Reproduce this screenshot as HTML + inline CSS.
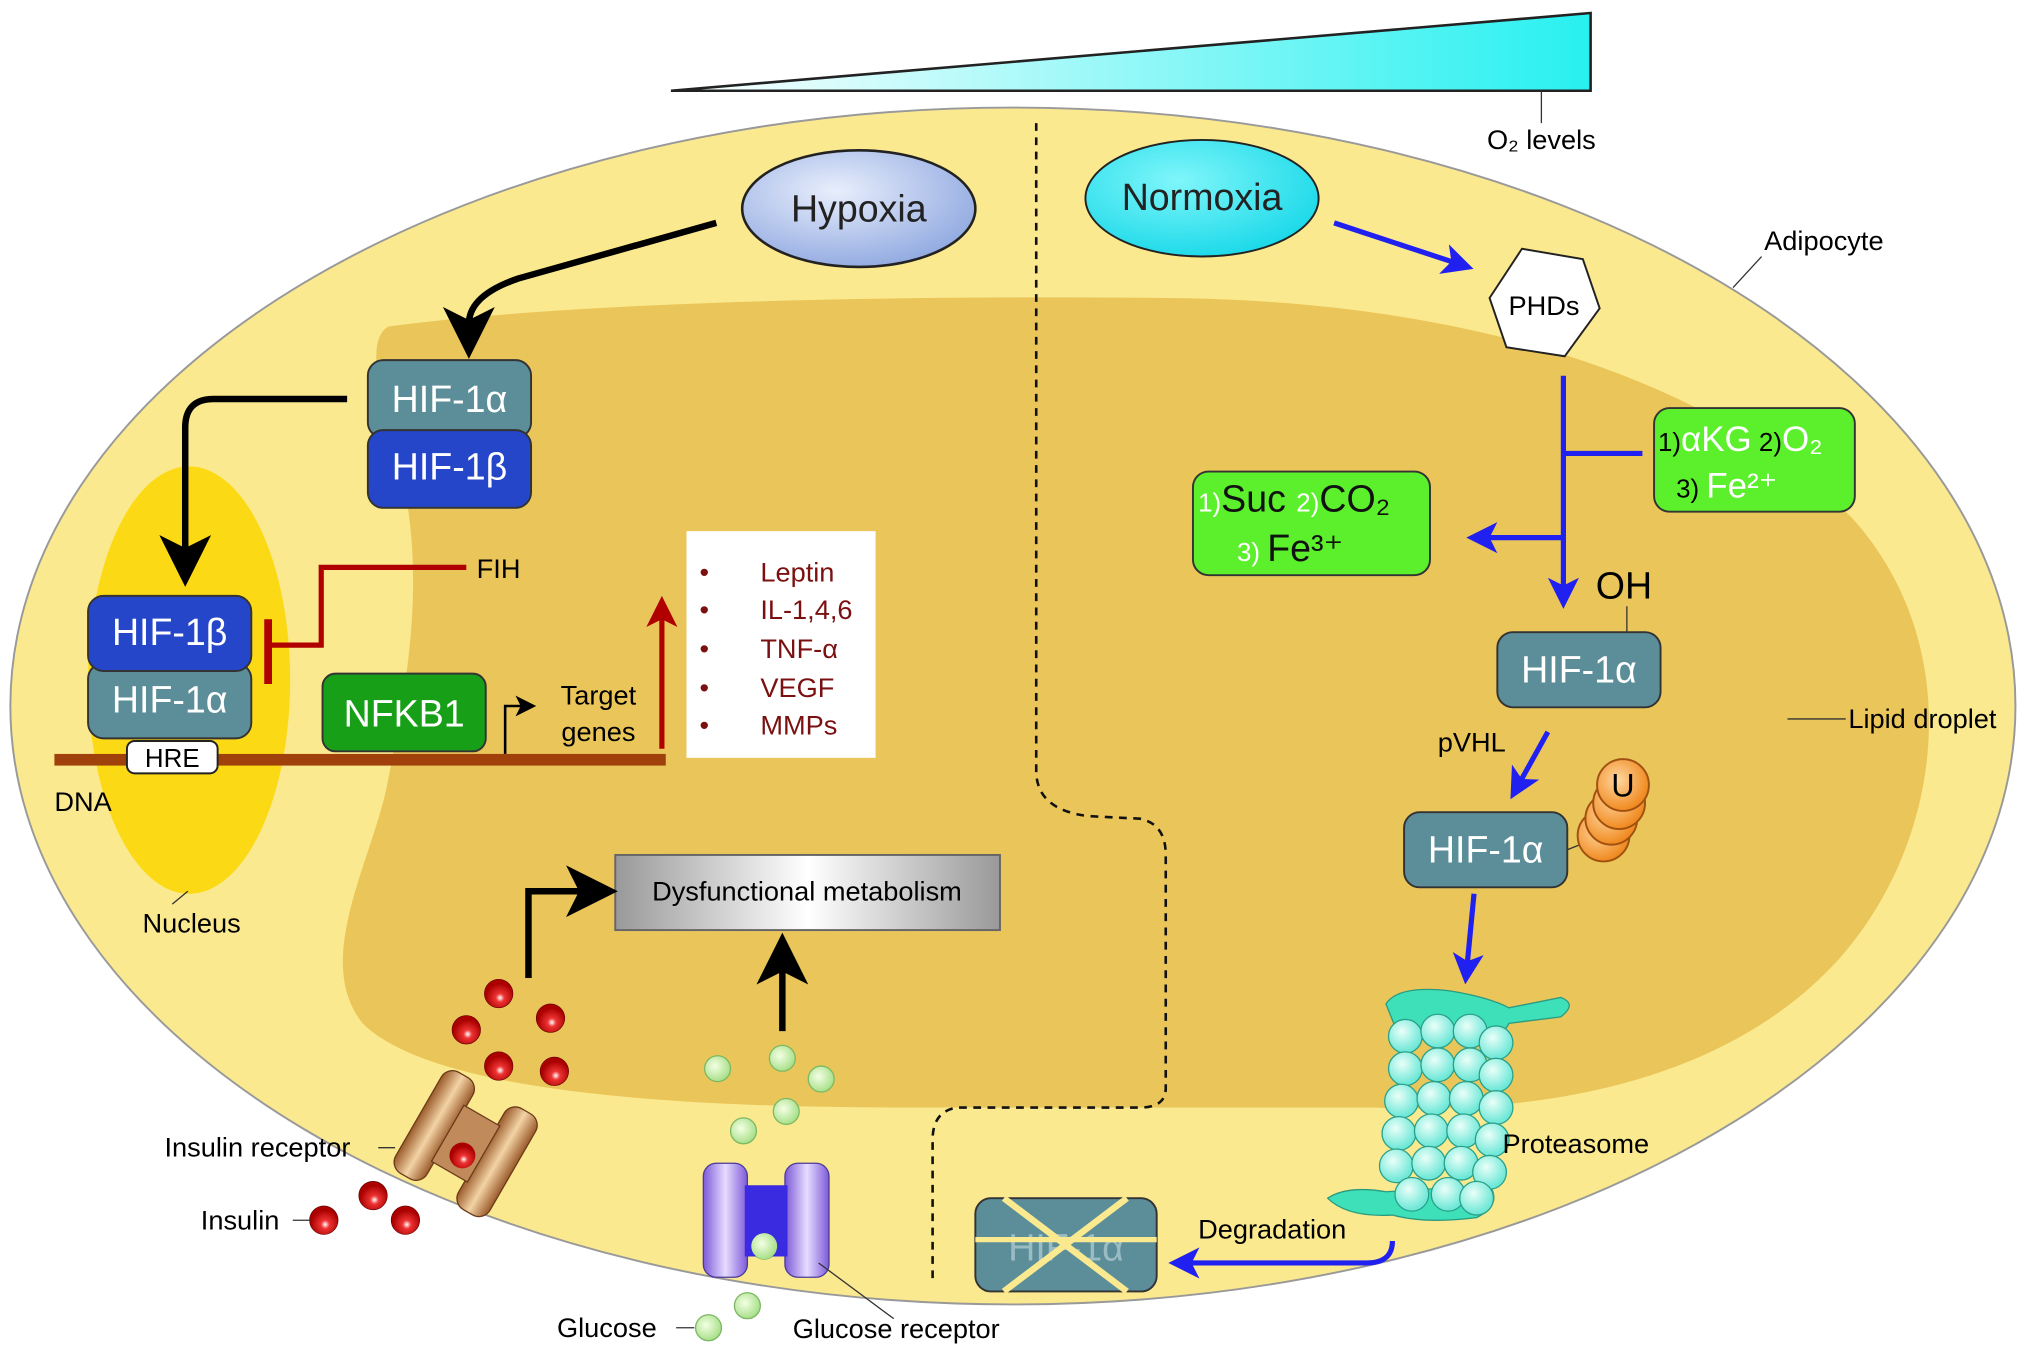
<!DOCTYPE html>
<html><head><meta charset="utf-8"><style>
html,body{margin:0;padding:0;background:#fff}
svg{display:block}
text{font-family:"Liberation Sans",Arial,sans-serif}
</style></head><body>
<svg width="2031" height="1355" viewBox="0 0 1568 1046" xmlns="http://www.w3.org/2000/svg">
<defs>
<linearGradient id="tri" x1="0" x2="1" y1="0" y2="0"><stop offset="0" stop-color="#fff"/><stop offset="1" stop-color="#28f0f0"/></linearGradient>
<radialGradient id="hyp" cx="0.4" cy="0.35" r="0.7"><stop offset="0" stop-color="#e8eefc"/><stop offset="1" stop-color="#8fa8e0"/></radialGradient>
<radialGradient id="nor" cx="0.4" cy="0.35" r="0.7"><stop offset="0" stop-color="#7ff6fa"/><stop offset="1" stop-color="#18d8e8"/></radialGradient>
<linearGradient id="dys" x1="0" x2="1"><stop offset="0" stop-color="#999"/><stop offset="0.5" stop-color="#fff"/><stop offset="1" stop-color="#999"/></linearGradient>
<radialGradient id="ball" cx="0.4" cy="0.35" r="0.6"><stop offset="0" stop-color="#eafff8"/><stop offset="1" stop-color="#6fe8d8"/></radialGradient>
<radialGradient id="red" cx="0.55" cy="0.65" r="0.5"><stop offset="0" stop-color="#fff"/><stop offset="0.3" stop-color="#e33"/><stop offset="1" stop-color="#a00"/></radialGradient>
<radialGradient id="grn" cx="0.4" cy="0.4" r="0.6"><stop offset="0" stop-color="#f4ffe4"/><stop offset="1" stop-color="#a8e08a"/></radialGradient>
<radialGradient id="org" cx="0.4" cy="0.4" r="0.6"><stop offset="0" stop-color="#ffd7a0"/><stop offset="1" stop-color="#f08a20"/></radialGradient>
<linearGradient id="ins" x1="0" x2="1"><stop offset="0" stop-color="#9a5a2a"/><stop offset="0.5" stop-color="#f3d3a5"/><stop offset="1" stop-color="#9a5a2a"/></linearGradient>
<linearGradient id="glu" x1="0" x2="1"><stop offset="0" stop-color="#7d5ad8"/><stop offset="0.5" stop-color="#e6dcff"/><stop offset="1" stop-color="#7d5ad8"/></linearGradient>
<marker id="ab" markerWidth="8" markerHeight="8" refX="5" refY="4" orient="auto" markerUnits="strokeWidth"><path d="M0,0 L8,4 L0,8 L2,4z" fill="#000"/></marker>
<marker id="abl" markerWidth="6" markerHeight="6" refX="4" refY="3" orient="auto" markerUnits="strokeWidth"><path d="M0,0 L6,3 L0,6 L1.5,3z" fill="#2020f0"/></marker>
<marker id="ar" markerWidth="6" markerHeight="6" refX="4" refY="3" orient="auto" markerUnits="strokeWidth"><path d="M0,0 L6,3 L0,6 L1.5,3z" fill="#b00000"/></marker>
</defs>
<rect width="1568" height="1046" fill="#fff"/>
<!-- O2 triangle -->
<path d="M518,70 L1228,10 L1228,70Z" fill="url(#tri)" stroke="#222" stroke-width="2"/>
<line x1="1190" y1="70" x2="1190" y2="95" stroke="#333"/>
<text x="1190" y="115" font-size="21" text-anchor="middle">O₂ levels</text>
<!-- adipocyte -->
<ellipse cx="782" cy="545" rx="774" ry="462" fill="#fbe98f" stroke="#999" stroke-width="1.5"/>
<!-- lipid droplet -->
<path d="M300,252 C450,232 700,228 900,230 C1150,232 1330,300 1430,400 C1520,500 1500,650 1420,740 C1330,840 1180,860 1060,855 L700,855 C500,855 330,840 280,790 C240,740 290,660 300,600 C320,500 330,420 300,330 C290,290 285,260 300,252Z" fill="#eac65a"/>
<!-- nucleus -->
<ellipse cx="146" cy="525" rx="78" ry="165" fill="#fcd915"/>
<!-- dashed separator -->
<path d="M800,95 L800,595 Q800,625 840,630 L880,632 Q900,636 900,660 L900,840 Q900,855 880,855 L740,855 Q720,857 720,880 L720,990" fill="none" stroke="#111" stroke-width="2" stroke-dasharray="6,5"/>
<!-- labels side -->
<line x1="1338" y1="222" x2="1360" y2="198" stroke="#333"/>
<text x="1362" y="193" font-size="21">Adipocyte</text>
<line x1="1380" y1="555" x2="1425" y2="555" stroke="#333"/>
<text x="1427" y="562" font-size="21">Lipid droplet</text>
<!-- Hypoxia -->
<ellipse cx="663" cy="161" rx="90" ry="45" fill="url(#hyp)" stroke="#222" stroke-width="2"/>
<text x="663" y="171" font-size="29" text-anchor="middle" fill="#222">Hypoxia</text>
<ellipse cx="928" cy="153" rx="90" ry="45" fill="url(#nor)" stroke="#222" stroke-width="1.5"/>
<text x="928" y="162" font-size="29" text-anchor="middle" fill="#222">Normoxia</text>
<!-- hypoxia arrow -->
<path d="M553,172 L400,215 Q362,228 362,250 L362,262" fill="none" stroke="#000" stroke-width="5" marker-end="url(#ab)"/>
<path d="M268,308 L165,308 Q143,308 143,330 L143,438" fill="none" stroke="#000" stroke-width="5" marker-end="url(#ab)"/>
<!-- HIF boxes -->
<rect x="284" y="278" width="126" height="60" rx="12" fill="#5b8e98" stroke="#333" stroke-width="1.5"/>
<text x="347" y="318" font-size="29" fill="#fff" text-anchor="middle">HIF-1α</text>
<rect x="284" y="332" width="126" height="60" rx="12" fill="#2546c8" stroke="#333" stroke-width="1.5"/>
<text x="347" y="370" font-size="29" fill="#fff" text-anchor="middle">HIF-1β</text>
<rect x="68" y="512" width="126" height="58" rx="12" fill="#5b8e98" stroke="#333" stroke-width="1.5"/>
<text x="131" y="550" font-size="29" fill="#fff" text-anchor="middle">HIF-1α</text>
<rect x="68" y="460" width="126" height="58" rx="12" fill="#2546c8" stroke="#333" stroke-width="1.5"/>
<text x="131" y="498" font-size="29" fill="#fff" text-anchor="middle">HIF-1β</text>
<!-- FIH inhibition -->
<path d="M360,438 L248,438 L248,498 L205,498" fill="none" stroke="#b00000" stroke-width="4"/>
<line x1="207" y1="478" x2="207" y2="528" stroke="#b00000" stroke-width="6"/>
<text x="368" y="446" font-size="21">FIH</text>
<!-- DNA -->
<rect x="42" y="582" width="472" height="9" fill="#a0400a"/>
<rect x="98" y="572" width="70" height="25" rx="6" fill="#fff" stroke="#222" stroke-width="1.5"/>
<text x="133" y="592" font-size="20" text-anchor="middle">HRE</text>
<text x="42" y="626" font-size="21">DNA</text>
<line x1="133" y1="698" x2="145" y2="688" stroke="#333"/>
<text x="110" y="720" font-size="21">Nucleus</text>
<!-- NFKB1 -->
<rect x="249" y="520" width="126" height="60" rx="10" fill="#17a017" stroke="#333" stroke-width="1.5"/>
<text x="312" y="561" font-size="29" fill="#fff" text-anchor="middle">NFKB1</text>
<path d="M390,582 L390,545 L408,545" fill="none" stroke="#000" stroke-width="2" marker-end="url(#ab)"/>
<text x="462" y="544" font-size="21" text-anchor="middle">Target</text>
<text x="462" y="572" font-size="21" text-anchor="middle">genes</text>
<line x1="511" y1="578" x2="511" y2="468" stroke="#b00000" stroke-width="4" marker-end="url(#ar)"/>
<!-- gene list -->
<rect x="530" y="410" width="146" height="175" fill="#fff"/>
<g font-size="21" fill="#7a1010">
<text x="540" y="449">•</text><text x="587" y="449">Leptin</text>
<text x="540" y="478">•</text><text x="587" y="478">IL-1,4,6</text>
<text x="540" y="508">•</text><text x="587" y="508">TNF-α</text>
<text x="540" y="538">•</text><text x="587" y="538">VEGF</text>
<text x="540" y="567">•</text><text x="587" y="567">MMPs</text>
</g>
<!-- Dysfunctional -->
<rect x="475" y="660" width="297" height="58" fill="url(#dys)" stroke="#666" stroke-width="1.5"/>
<text x="623" y="695" font-size="21" text-anchor="middle">Dysfunctional metabolism</text>
<path d="M408,755 L408,688 L462,688" fill="none" stroke="#000" stroke-width="5" marker-end="url(#ab)"/>
<line x1="604" y1="796" x2="604" y2="735" stroke="#000" stroke-width="5" marker-end="url(#ab)"/>
<!-- insulin dots -->
<g fill="url(#red)" stroke="#600" stroke-width="0.5">
<circle cx="385" cy="767" r="11"/><circle cx="360" cy="795" r="11"/><circle cx="425" cy="786" r="11"/><circle cx="385" cy="823" r="11"/><circle cx="428" cy="827" r="11"/>
<circle cx="288" cy="923" r="11"/><circle cx="313" cy="942" r="11"/><circle cx="250" cy="942" r="11"/>
</g>
<!-- insulin receptor -->
<g transform="rotate(30 360 882)">
<rect x="318" y="838" width="28" height="90" rx="10" fill="url(#ins)" stroke="#6a3a1a"/>
<rect x="374" y="838" width="28" height="90" rx="10" fill="url(#ins)" stroke="#6a3a1a"/>
<rect x="344" y="858" width="32" height="50" fill="#c08a5a" stroke="#6a3a1a"/>
</g>
<circle cx="357" cy="892" r="10" fill="url(#red)"/>
<line x1="292" y1="886" x2="305" y2="886" stroke="#333"/>
<text x="127" y="893" font-size="21">Insulin receptor</text>
<line x1="226" y1="942" x2="240" y2="942" stroke="#333"/>
<text x="155" y="949" font-size="21">Insulin</text>
<!-- glucose -->
<g fill="url(#grn)" stroke="#7cb864" stroke-width="1">
<circle cx="554" cy="825" r="10"/><circle cx="604" cy="817" r="10"/><circle cx="634" cy="833" r="10"/><circle cx="607" cy="858" r="10"/><circle cx="574" cy="873" r="10"/>
<circle cx="590" cy="962" r="10"/><circle cx="577" cy="1008" r="10"/><circle cx="547" cy="1025" r="10"/>
</g>
<rect x="543" y="898" width="34" height="88" rx="10" fill="url(#glu)" stroke="#4a3a9a"/>
<rect x="606" y="898" width="34" height="88" rx="10" fill="url(#glu)" stroke="#4a3a9a"/>
<rect x="575" y="915" width="33" height="55" fill="#3a2ae0"/>
<circle cx="590" cy="962" r="10" fill="url(#grn)"/>
<line x1="522" y1="1025" x2="536" y2="1025" stroke="#333"/>
<text x="430" y="1032" font-size="21">Glucose</text>
<line x1="632" y1="975" x2="690" y2="1018" stroke="#333"/>
<text x="612" y="1033" font-size="21">Glucose receptor</text>
<!-- Normoxia side -->
<line x1="1030" y1="172" x2="1130" y2="205" stroke="#2020f0" stroke-width="4" marker-end="url(#abl)"/>
<path d="M1175,192 L1222,200 L1235,238 L1208,275 L1163,268 L1150,230Z" fill="#fff" stroke="#222" stroke-width="1.5"/>
<text x="1192" y="243" font-size="21" text-anchor="middle">PHDs</text>
<line x1="1207" y1="290" x2="1207" y2="462" stroke="#2020f0" stroke-width="4" marker-end="url(#abl)"/>
<line x1="1207" y1="350" x2="1268" y2="350" stroke="#2020f0" stroke-width="4"/>
<line x1="1207" y1="415" x2="1140" y2="415" stroke="#2020f0" stroke-width="4" marker-end="url(#abl)"/>
<rect x="1277" y="315" width="155" height="80" rx="12" fill="#5cf02c" stroke="#333" stroke-width="1.5"/>
<text x="1280" y="348" font-size="20">1)<tspan fill="#fff" font-size="27">αKG</tspan> 2)<tspan fill="#fff" font-size="27">O₂</tspan></text>
<text x="1294" y="384" font-size="20">3) <tspan fill="#fff" font-size="27">Fe²⁺</tspan></text>
<rect x="921" y="364" width="183" height="80" rx="12" fill="#5cf02c" stroke="#333" stroke-width="1.5"/>
<text x="925" y="395" font-size="20" fill="#fff">1)<tspan fill="#111" font-size="29">Suc </tspan>2)<tspan fill="#111" font-size="29">CO₂</tspan></text>
<text x="955" y="433" font-size="20" fill="#fff">3) <tspan fill="#111" font-size="29">Fe³⁺</tspan></text>
<text x="1232" y="462" font-size="29">OH</text>
<line x1="1256" y1="468" x2="1256" y2="490" stroke="#333"/>
<rect x="1156" y="488" width="126" height="58" rx="12" fill="#5b8e98" stroke="#333" stroke-width="1.5"/>
<text x="1219" y="527" font-size="29" fill="#fff" text-anchor="middle">HIF-1α</text>
<text x="1110" y="580" font-size="21">pVHL</text>
<line x1="1195" y1="565" x2="1170" y2="610" stroke="#2020f0" stroke-width="4" marker-end="url(#abl)"/>
<rect x="1084" y="627" width="126" height="58" rx="12" fill="#5b8e98" stroke="#333" stroke-width="1.5"/>
<text x="1147" y="666" font-size="29" fill="#fff" text-anchor="middle">HIF-1α</text>
<line x1="1210" y1="656" x2="1225" y2="650" stroke="#333"/>
<g stroke="#a05010" stroke-width="1.5" fill="url(#org)">
<circle cx="1238" cy="645" r="20"/><circle cx="1244" cy="632" r="20"/><circle cx="1250" cy="620" r="20"/><circle cx="1253" cy="606" r="20"/>
</g>
<text x="1253" y="615" font-size="25" text-anchor="middle">U</text>
<line x1="1138" y1="690" x2="1132" y2="752" stroke="#2020f0" stroke-width="4" marker-end="url(#abl)"/>
<!-- proteasome -->
<path d="M1070,775 Q1080,760 1120,765 Q1150,770 1165,778 L1205,770 Q1218,775 1205,785 L1165,790 Q1160,800 1150,800 L1080,800Z" fill="#3de0b8" stroke="#2a9a80"/>
<path d="M1025,925 Q1040,915 1070,920 L1150,915 Q1160,930 1140,940 Q1100,945 1075,938 Q1040,940 1025,925Z" fill="#3de0b8" stroke="#2a9a80"/>
<g fill="url(#ball)" stroke="#2aa08a" stroke-width="1">
<circle cx="1085" cy="800" r="13"/><circle cx="1110" cy="796" r="13"/><circle cx="1135" cy="796" r="13"/><circle cx="1155" cy="805" r="13"/>
<circle cx="1085" cy="825" r="13"/><circle cx="1110" cy="822" r="13"/><circle cx="1135" cy="822" r="13"/><circle cx="1155" cy="830" r="13"/>
<circle cx="1082" cy="850" r="13"/><circle cx="1107" cy="848" r="13"/><circle cx="1132" cy="848" r="13"/><circle cx="1155" cy="855" r="13"/>
<circle cx="1080" cy="875" r="13"/><circle cx="1105" cy="873" r="13"/><circle cx="1130" cy="873" r="13"/><circle cx="1152" cy="880" r="13"/>
<circle cx="1078" cy="900" r="13"/><circle cx="1103" cy="898" r="13"/><circle cx="1128" cy="898" r="13"/><circle cx="1150" cy="905" r="13"/>
<circle cx="1090" cy="922" r="13"/><circle cx="1118" cy="922" r="13"/><circle cx="1140" cy="925" r="13"/>
</g>
<text x="1160" y="890" font-size="21">Proteasome</text>
<path d="M1075,958 Q1075,975 1055,975 L910,975" fill="none" stroke="#2020f0" stroke-width="4" marker-end="url(#abl)"/>
<text x="925" y="956" font-size="21">Degradation</text>
<!-- degraded HIF -->
<rect x="753" y="925" width="140" height="72" rx="12" fill="#5b8e98" stroke="#333" stroke-width="1.5"/>
<text x="823" y="973" font-size="29" fill="#9cbcc4" text-anchor="middle">HIF-1α</text>
<path d="M775,925 L870,997 M870,925 L775,997" stroke="#fbe98f" stroke-width="5"/>
<line x1="753" y1="957" x2="893" y2="957" stroke="#fbe98f" stroke-width="4"/>
</svg>
</body></html>
